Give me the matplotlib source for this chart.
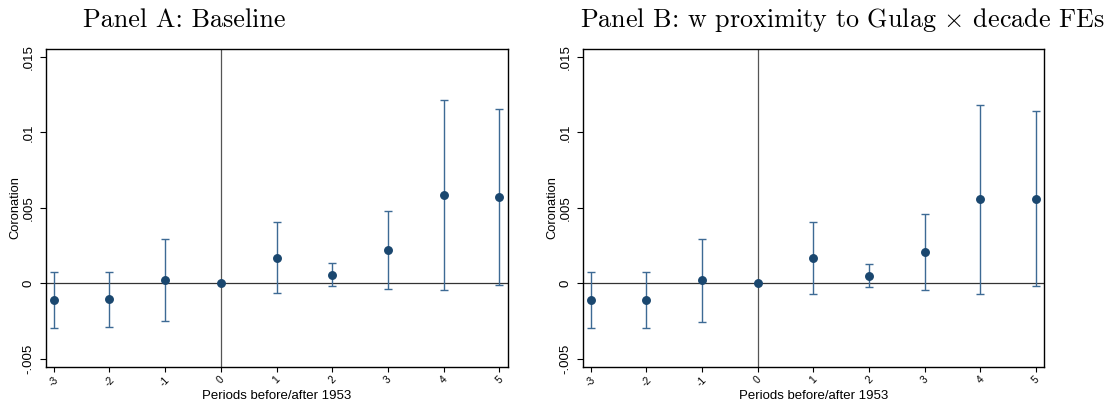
import numpy as np
import matplotlib.pyplot as plt

periods = [-3, -2, -1, 0, 1, 2, 3, 4, 5]

# Panel A: baseline
coefA = [-0.00111, -0.00106, 0.00022, 0.0, 0.00170, 0.00057, 0.00223, 0.00585, 0.00570]
lowA = [-0.00295, -0.00291, -0.00252, 0.0, -0.00066, -0.00020, -0.00035, -0.00046, -0.00013]
highA = [0.00075, 0.00077, 0.00291, 0.0, 0.00404, 0.00135, 0.00479, 0.01214, 0.01153]

# Panel B: with proximity to Gulag x decade FEs
coefB = [-0.00110, -0.00110, 0.00020, 0.0, 0.00168, 0.00051, 0.00205, 0.00556, 0.00561]
lowB = [-0.00296, -0.00296, -0.00256, 0.0, -0.00068, -0.00024, -0.00046, -0.00068, -0.00018]
highB = [0.00077, 0.00077, 0.00294, 0.0, 0.00406, 0.00126, 0.00457, 0.01183, 0.01139]

yticks = [-0.005, 0, 0.005, 0.01, 0.015]
ytick_labels = ['-.005', '0', '.005', '.01', '.015']

plt.rcParams['font.family'] = ['Liberation Sans', 'DejaVu Sans']
plt.rcParams['mathtext.fontset'] = 'cm'

W, H = 1118, 407
fig = plt.figure(figsize=(W / 100, H / 100), dpi=100)

def px(l, t, r, b):
    return [l / W, 1 - b / H, (r - l) / W, (b - t) / H]

navy = '#1a476f'
ci_col = '#3d6a94'

def panel(l, r, coef, low, high):
    t, b = 49, 366.7
    ax = fig.add_axes(px(l, t, r, b))
    coef = np.array(coef)
    x = np.array(periods)
    err = [coef - np.array(low), np.array(high) - coef]
    ax.axhline(0, color='#333333', lw=0.9, zorder=1)
    ax.axvline(0, color='#555555', lw=0.9, zorder=1)
    m = x != 0
    ax.errorbar(x[m], coef[m], yerr=[err[0][m], err[1][m]], fmt='none',
                ecolor=ci_col, elinewidth=1.0, capsize=3.1, capthick=1.0, zorder=2)
    ax.plot(x, coef, 'o', color=navy, ms=5.4, zorder=3)
    ax.set_xlim(-3.144, 5.15)
    ax.set_ylim(-0.00552, 0.01553)
    ax.set_xticks(periods)
    ax.set_xticklabels([str(p) for p in periods], rotation=45, fontsize=7.5,
                       ha='center', va='top')
    ax.set_yticks(yticks)
    ax.set_yticklabels(ytick_labels, rotation=90, fontsize=9.5, va='center')
    ax.tick_params(axis='y', direction='out', length=4, width=0.8, pad=4)
    ax.tick_params(axis='x', direction='out', length=3.5, width=0.8, pad=2)
    for s in ax.spines.values():
        s.set_linewidth(1.0)
        s.set_color('black')
    ax.set_xlabel('Periods before/after 1953', fontsize=9.5, va='center')
    ax.xaxis.set_label_coords(0.5, -0.091)
    ax.set_ylabel('Coronation', fontsize=9.3, va='center')
    ax.yaxis.set_label_coords((15 - 45.7) / (r - l), 0.5)
    return ax

panel(45.7, 507.7, coefA, lowA, highA)
panel(582.7, 1044.3, coefB, lowB, highB)

fig.text(83 / W, 1 - 27.3 / H, 'Panel A: Baseline', family='cmr10', fontsize=18.8,
         va='baseline', ha='left')
fig.text(580 / W, 1 - 27.3 / H, r'Panel B: w proximity to Gulag $\times$ decade FEs',
         family='cmr10', fontsize=18.8, va='baseline', ha='left')

fig.savefig('out.png', dpi=100)
